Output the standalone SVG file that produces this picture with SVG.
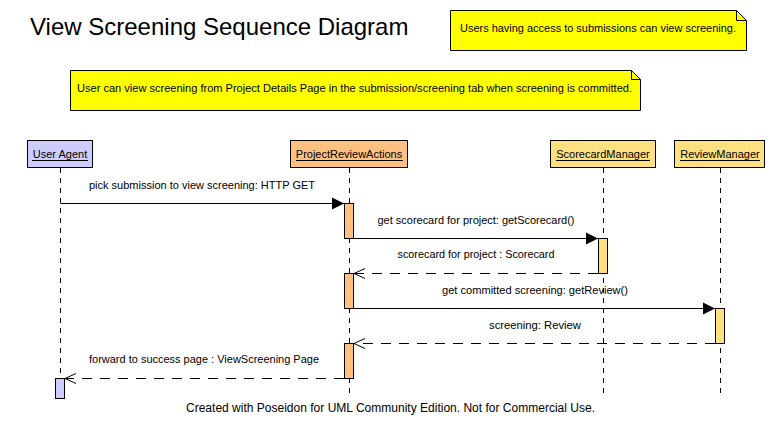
<svg xmlns="http://www.w3.org/2000/svg" width="780" height="433" viewBox="0 0 780 433">
<defs>
<style>
text{font-family:"Liberation Sans",Arial,sans-serif;fill:#000}
.t{font-size:24px}
.s{font-size:11px}
.f{font-size:12px}
.m{text-anchor:middle}
.hdr{stroke:#000;stroke-width:1}
.ua{fill:#CCCCFF}
.pra{fill:#FFC080}
.mgr{fill:#FFE080}
.note{fill:#FFFF00;stroke:#000;stroke-width:1}
.life{stroke:#000;stroke-width:1;stroke-dasharray:5 5;fill:none}
.call{stroke:#000;stroke-width:1;fill:none}
.ret{stroke:#000;stroke-width:1;stroke-dasharray:10 8;fill:none}
.act{stroke:#000;stroke-width:1}
</style>
<marker id="filled" markerWidth="13" markerHeight="13" refX="12" refY="6.5" orient="auto" markerUnits="userSpaceOnUse">
<path d="M0,0.5 L12,6.5 L0,12.5 Z" fill="#000"/>
</marker>
<marker id="open" markerWidth="13" markerHeight="12" refX="12" refY="6" orient="auto" markerUnits="userSpaceOnUse">
<path d="M1,1 L12,6 L1,11" fill="none" stroke="#000" stroke-width="1"/>
</marker>
</defs>
<rect width="780" height="433" fill="#fff"/>
<text class="t" x="30" y="35">View Screening Sequence Diagram</text>
<g id="note1">
<path class="note" d="M450.5,10.5 H736.5 L746.5,20.5 V50.5 H450.5 Z"/>
<path d="M736.5,10.5 V20.5 H746.5" fill="none" stroke="#000"/>
<text class="s" x="460" y="32" textLength="276" lengthAdjust="spacingAndGlyphs">Users having access to submissions can view screening.</text>
</g>
<g id="note2">
<path class="note" d="M70.5,70.5 H631.5 L640.5,79.5 V110.5 H70.5 Z"/>
<path d="M631.5,70.5 V79.5 H640.5" fill="none" stroke="#000"/>
<text class="s" x="77" y="92" textLength="555" lengthAdjust="spacingAndGlyphs">User can view screening from Project Details Page in the submission/screening tab when screening is committed.</text>
</g>
<g id="lifelines">
<line class="life" x1="60.5" y1="168" x2="60.5" y2="378"/>
<line class="life" x1="349.5" y1="168" x2="349.5" y2="396"/>
<line class="life" x1="603.5" y1="168" x2="603.5" y2="396"/>
<line class="life" x1="720.5" y1="168" x2="720.5" y2="396"/>
</g>
<g id="UserAgent">
<rect class="hdr ua" x="27.5" y="140.5" width="65" height="27"/>
<text class="s m" x="60" y="158">User Agent</text>
<line x1="32" y1="160.5" x2="88" y2="160.5" stroke="#000"/>
<rect class="act ua" x="55.5" y="378.5" width="9" height="20"/>
</g>
<g id="ProjectReviewActions">
<rect class="hdr pra" x="290.5" y="140.5" width="117" height="27"/>
<text class="s m" x="349" y="158">ProjectReviewActions</text>
<line x1="296" y1="160.5" x2="403" y2="160.5" stroke="#000"/>
<rect class="act pra" x="344.5" y="203.5" width="9" height="35"/>
<rect class="act pra" x="344.5" y="273.5" width="9" height="35"/>
<rect class="act pra" x="344.5" y="343.5" width="9" height="35"/>
</g>
<g id="ScorecardManager">
<rect class="hdr mgr" x="550.5" y="140.5" width="105" height="27"/>
<text class="s m" x="603" y="158">ScorecardManager</text>
<line x1="556" y1="160.5" x2="650" y2="160.5" stroke="#000"/>
<rect class="act mgr" x="598.5" y="238.5" width="9" height="35"/>
</g>
<g id="ReviewManager">
<rect class="hdr mgr" x="674.5" y="140.5" width="90" height="27"/>
<text class="s m" x="720" y="158">ReviewManager</text>
<line x1="680" y1="160.5" x2="760" y2="160.5" stroke="#000"/>
<rect class="act mgr" x="715.5" y="308.5" width="9" height="35"/>
</g>
<g id="connectors">
<line class="call" x1="60.5" y1="203.5" x2="344" y2="203.5" marker-end="url(#filled)"/>
<text class="s m" x="202" y="189" textLength="226" lengthAdjust="spacingAndGlyphs">pick submission to view screening: HTTP GET</text>
<line class="call" x1="354" y1="238.5" x2="598" y2="238.5" marker-end="url(#filled)"/>
<text class="s m" x="476" y="224" textLength="197" lengthAdjust="spacingAndGlyphs">get scorecard for project: getScorecard()</text>
<line class="ret" x1="598" y1="273.5" x2="354" y2="273.5" marker-end="url(#open)"/>
<text class="s m" x="476" y="258" textLength="157" lengthAdjust="spacingAndGlyphs">scorecard for project : Scorecard</text>
<line class="call" x1="354" y1="308.5" x2="715" y2="308.5" marker-end="url(#filled)"/>
<text class="s m" x="535" y="294" textLength="186" lengthAdjust="spacingAndGlyphs">get committed screening: getReview()</text>
<line class="ret" x1="715" y1="343.5" x2="354" y2="343.5" marker-end="url(#open)"/>
<text class="s m" x="535" y="329" textLength="92" lengthAdjust="spacingAndGlyphs">screening: Review</text>
<line class="ret" x1="344" y1="378.5" x2="65" y2="378.5" marker-end="url(#open)"/>
<text class="s m" x="204" y="363" textLength="230" lengthAdjust="spacingAndGlyphs">forward to success page : ViewScreening Page</text>
</g>
<text class="f m" x="390.5" y="412" textLength="409" lengthAdjust="spacingAndGlyphs">Created with Poseidon for UML Community Edition. Not for Commercial Use.</text>
</svg>
